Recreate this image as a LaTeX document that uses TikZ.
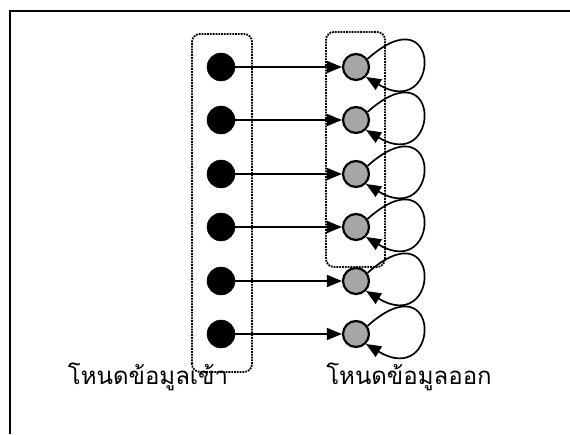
\documentclass[tikz,border=0pt]{standalone}
\usepackage{fontspec}
\newfontfamily\thaifont[Script=Thai]{Loma}
\usetikzlibrary{arrows.meta}

\begin{document}
\begin{tikzpicture}[x=1pt, y=1pt,
  innode/.style={circle, fill=black, draw=black, minimum size=28pt, inner sep=0pt},
  outnode/.style={circle, fill=black!35, draw=black, line width=2.2pt, minimum size=26pt, inner sep=0pt},
  group/.style={draw, densely dotted, line width=1.8pt, rounded corners=8pt},
  link/.style={line width=1.7pt, -{Triangle[length=15pt,width=12pt]}},
  every node/.style={font=\thaifont\fontsize{24}{28}\selectfont}]
\useasboundingbox (0,0) rectangle (570,434);
% Frame
\draw[line width=2pt] (10,0) |- (570,423);
% Input and output groups
\draw[group] (192,62) rectangle (252,400);
\draw[group] (326,167) rectangle (385,402);
% Nodes, links and self loops
\foreach \i/\y in {1/367, 2/314, 3/260, 4/207, 5/153, 6/100} {
  \node[innode] (in\i) at (221,\y) {};
  \node[outnode] (out\i) at (356,\y) {};
  \draw[link] (in\i) -- (out\i);
  \draw[link] (out\i.35) .. controls +(75,67) and +(75,-45) .. (out\i.-45);
}
% Labels
\node (inlabel) at (148,57) {โหนดข้อมูลเข้า};
\node (outlabel) at (409,57) {โหนดข้อมูลออก};
\end{tikzpicture}
\end{document}
